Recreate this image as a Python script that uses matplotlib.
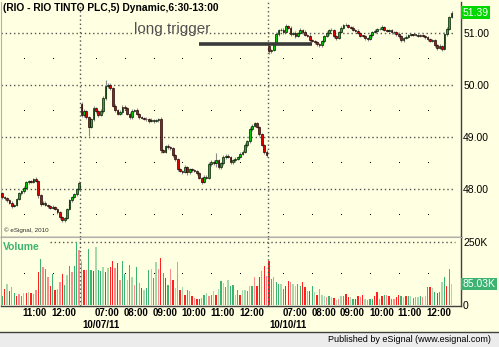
import numpy as np
import matplotlib.pyplot as plt
import matplotlib.transforms as mtransforms
from matplotlib.patches import Rectangle
from matplotlib.lines import Line2D

plt.rcParams["font.family"] = ["Liberation Sans", "DejaVu Sans"]

W, H = 499, 347
BG = "#ffffe1"

# ---- 5-minute bars, three sessions ----
day_labels = ["10/06/11", "10/07/11", "10/10/11"]
day_start = [(10, 15), (6, 30), (6, 30)]
day_open = [47.92, 49.63, 50.75]

close_d1 = [47.85, 47.82, 47.78, 47.74, 47.68, 47.70, 47.80, 47.92, 47.96, 48.02,
            48.13, 48.15, 48.14, 48.19, 48.16, 47.88, 47.72, 47.74, 47.70, 47.67,
            47.64, 47.66, 47.62, 47.55, 47.46, 47.40, 47.45, 47.62, 47.78, 47.84,
            47.90, 48.00, 48.12]
close_d2 = [49.42, 49.50, 49.38, 49.20, 49.35, 49.55, 49.50, 49.42, 49.50, 49.75,
            49.98, 50.00, 49.95, 49.60, 49.52, 49.45, 49.48, 49.58, 49.55, 49.45,
            49.38, 49.50, 49.52, 49.45, 49.38, 49.36, 49.35, 49.34, 49.30, 49.33,
            49.30, 49.32, 49.35, 48.75, 48.72, 48.82, 48.80, 48.78, 48.65, 48.58,
            48.38, 48.35, 48.33, 48.43, 48.32, 48.38, 48.36, 48.35, 48.30, 48.22,
            48.14, 48.24, 48.22, 48.48, 48.52, 48.50, 48.55, 48.42, 48.50, 48.62,
            48.64, 48.62, 48.52, 48.55, 48.58, 48.62, 48.68, 48.72, 48.85, 48.92,
            49.15, 49.22, 49.26, 49.20, 49.05, 48.85, 48.72, 48.65]
close_d3 = [50.65, 50.68, 50.78, 50.98, 51.05, 51.06, 51.02, 51.14, 51.10, 50.98,
            51.00, 50.94, 51.00, 51.06, 51.02, 50.96, 50.95, 50.86, 50.84, 50.82,
            50.78, 50.76, 50.84, 50.95, 51.00, 51.05, 51.06, 50.94, 50.90, 51.02,
            51.10, 51.15, 51.16, 51.12, 51.10, 51.06, 51.04, 51.00, 50.95, 50.94,
            50.90, 50.88, 50.96, 51.02, 51.04, 51.08, 51.07, 51.12, 51.06, 51.03,
            51.05, 51.02, 51.01, 50.98, 50.94, 50.86, 50.90, 50.93, 50.96, 50.97,
            50.96, 50.96, 50.95, 50.96, 50.95, 50.92, 50.88, 50.85, 50.86, 50.76,
            50.72, 50.75, 50.70, 50.98, 51.08, 51.30, 51.39]

# wick extensions beyond the body, in cents
up_d1 = [3, 2, 2, 2, 3, 2, 3, 2, 2, 3, 3, 2, 3, 2, 4, 2, 2, 3, 2, 2,
         2, 3, 2, 2, 3, 2, 2, 2, 3, 2, 3, 2, 3]
dn_d1 = [4, 3, 3, 3, 4, 2, 3, 2, 3, 3, 2, 3, 2, 2, 3, 5, 4, 2, 3, 3,
         3, 2, 3, 3, 3, 4, 4, 3, 2, 3, 2, 3, 2]
up_d2 = [4, 3, 2, 3, 2, 4, 3, 2, 3, 4, 12, 4, 3, 2, 3, 2, 3, 3, 4, 2,
         3, 3, 2, 3, 2, 3, 2, 3, 2, 3, 2, 3, 2, 3, 2, 3, 4, 3, 2, 3,
         2, 3, 2, 4, 2, 3, 2, 3, 2, 2, 2, 3, 2, 4, 3, 3, 15, 3, 2, 4,
         3, 3, 2, 3, 3, 2, 3, 3, 4, 3, 4, 3, 3, 3, 2, 3, 2, 3]
dn_d2 = [4, 3, 3, 18, 3, 4, 3, 3, 2, 3, 3, 3, 4, 3, 3, 3, 2, 3, 3, 3,
         4, 3, 2, 3, 3, 2, 3, 4, 3, 2, 3, 2, 3, 5, 3, 3, 4, 3, 3, 4,
         3, 3, 4, 3, 5, 3, 3, 3, 3, 3, 4, 3, 3, 3, 3, 3, 8, 3, 3, 3,
         4, 3, 4, 3, 3, 3, 3, 3, 3, 4, 3, 3, 3, 3, 4, 3, 5, 3]
up_d3 = [3, 2, 2, 3, 2, 3, 3, 3, 2, 3, 2, 3, 2, 3, 2, 3, 2, 3, 2, 2,
         3, 2, 3, 2, 3, 2, 3, 2, 3, 2, 3, 2, 3, 2, 2, 3, 2, 3, 2, 2,
         3, 2, 3, 2, 3, 2, 3, 3, 2, 2, 3, 2, 2, 2, 3, 2, 2, 3, 2, 2,
         2, 2, 2, 2, 2, 2, 3, 2, 2, 3, 2, 3, 2, 3, 3, 3, 3]
dn_d3 = [5, 3, 3, 2, 3, 2, 3, 2, 3, 3, 2, 3, 2, 2, 3, 2, 3, 3, 2, 3,
         3, 3, 2, 3, 2, 3, 2, 3, 3, 2, 2, 3, 2, 2, 3, 2, 3, 2, 3, 2,
         3, 3, 2, 3, 2, 3, 2, 2, 3, 2, 2, 3, 2, 3, 3, 3, 3, 2, 2, 2,
         2, 2, 2, 2, 2, 3, 3, 3, 3, 3, 4, 3, 4, 3, 3, 2, 2]

# volume in thousands, colour code per bar
vol_d1 = [39, 66, 86, 59, 74, 51, 39, 47, 39, 51, 51, 55, 51, 47, 62, 133, 183, 152, 144, 113,
          78, 125, 62, 66, 94, 125, 82, 121, 156, 133, 156, 250, 218]
vol_d2 = [177, 140, 138, 222, 138, 137, 231, 140, 137, 151, 134, 147, 153, 177, 147, 169, 101, 177, 125, 99,
          160, 112, 82, 153, 88, 69, 60, 69, 138, 144, 108, 173, 144, 186, 130, 108, 79, 144, 101, 69,
          173, 62, 73, 43, 62, 56, 39, 30, 26, 26, 30, 43, 49, 36, 43, 56, 43, 65, 95, 88,
          73, 101, 75, 82, 43, 60, 43, 62, 62, 56, 75, 78, 114, 78, 114, 137, 156, 117]
vol_d3 = [176, 104, 114, 94, 85, 85, 65, 78, 98, 91, 85, 78, 85, 78, 91, 72, 59, 59, 78, 52,
          42, 65, 42, 39, 33, 39, 33, 29, 23, 26, 39, 36, 46, 33, 33, 26, 26, 36, 33, 42,
          26, 22, 26, 26, 39, 52, 26, 39, 42, 42, 39, 26, 26, 33, 42, 36, 33, 39, 36, 36,
          29, 33, 33, 36, 33, 36, 72, 72, 68, 52, 49, 52, 91, 111, 78, 143, 85]
vcol_d1 = "grlrsgrsglrlrssrgsgsrgrssrglgsggs"
vcol_d2 = "srsggrlgglrlrrsrsgglglsgsrlgglglsrgrgsrlsrlrgsrsrrsglsglrlglglgglgrllglgsrrsrs"
vcol_d3 = "rgsgglgrrsllggrrsrglrsllsglrlslgrrlgrrsrlsggrrsrgsrgsrrglrglgslgslgrlgrglgrgl"

price_ticks = [48, 49, 50, 51]
vol_ticks = [0, 250]
hour_labels = ["07:00", "08:00", "09:00", "10:00", "11:00", "12:00"]
trigger_price = 50.79
trigger_span = (82, 129)   # bar index range of the drawn trigger line
last_price = 51.39
last_vol = 85.03

# ---- assemble series ----
closes, opens, ups, dns, vols, vcols, times, day_first = [], [], [], [], [], [], [], []
for d, (cl, up, dn, vo, vc) in enumerate([(close_d1, up_d1, dn_d1, vol_d1, vcol_d1),
                                          (close_d2, up_d2, dn_d2, vol_d2, vcol_d2),
                                          (close_d3, up_d3, dn_d3, vol_d3, vcol_d3)]):
    day_first.append(len(closes))
    opens += [day_open[d]] + cl[:-1]
    closes += cl
    ups += up
    dns += dn
    vols += vo
    vcols += list(vc)
    h0, m0 = day_start[d]
    for k in range(len(cl)):
        t = h0 * 60 + m0 + 5 * k
        times.append((t // 60, t % 60))

o = np.array(opens)
c = np.array(closes)
n = len(c)
idx = np.arange(n)
hi = np.maximum(o, c) + np.array(ups) / 100
lo = np.minimum(o, c) - np.array(dns) / 100

fig = plt.figure(figsize=(W / 100, H / 100), dpi=100)
fig.patch.set_facecolor(BG)

def frac(px_l, px_t, px_r, px_b):
    return [px_l / W, 1 - px_b / H, (px_r - px_l) / W, (px_b - px_t) / H]

ax = fig.add_axes(frac(1, 2, 461, 237))
axv = fig.add_axes(frac(1, 237, 461, 306), sharex=ax)
for a in (ax, axv):
    a.set_facecolor(BG)
    for s in ("top", "left"):
        a.spines[s].set_color("#b0b0b0")
        a.spines[s].set_linewidth(0.8)
    for s in ("right", "bottom"):
        a.spines[s].set_color("#404040")
        a.spines[s].set_linewidth(1.0)
    a.tick_params(length=0)
ax.spines["top"].set_visible(False)

xmin, xmax = -0.5, 190.9
ax.set_xlim(xmin, xmax)
ax.set_ylim(47.077, 51.596)
axv.set_ylim(-2, 270)

dot_style = dict(color="#555555", lw=1.0, linestyle=(0, (1, 2)))

# price grid
for p in price_ticks:
    ax.plot([xmin, n - 1 + 1.5], [p, p], zorder=1, **dot_style)
hour_idx = [i for i, (h, m) in enumerate(times) if m == 0 and f"{h:02d}:00" in hour_labels]
for p in [47.5, 48.5, 49.5, 50.5]:
    ax.plot(hour_idx, [p] * len(hour_idx), ",", color="black", zorder=1)
axv.plot(hour_idx, [125] * len(hour_idx), ",", color="black", zorder=1)
axv.plot([20, n - 1 + 1.5], [250, 250], zorder=1, **dot_style)
for b in day_first[1:]:
    ax.axvline(b - 0.5, zorder=1, **dot_style)
    axv.axvline(b - 0.5, zorder=4, **dot_style)

# candles
ax.vlines(idx, lo, hi, color="#8a8a8a", lw=0.8, zorder=2)
body_lo = np.minimum(o, c)
body_h = np.maximum(np.abs(c - o), 0.012)
body_col = np.where(c >= o, "#00c800", "#e00000")
ax.bar(idx, body_h, bottom=body_lo, width=0.72, color=body_col,
       edgecolor="black", linewidth=0.45, zorder=3)

# trigger line and note
ax.plot(trigger_span, [trigger_price, trigger_price], color="#3a3a3a", lw=2.6,
        solid_capstyle="butt", zorder=4)
ax.text(55.0, 51.0, "long trigger", fontsize=11, color="#505050", ha="left",
        va="baseline", zorder=5)

# volume
vmap = {"g": "#3cb371", "l": "#a3d9ad", "r": "#ff2020", "s": "#ff8c8c"}
axv.bar(idx, vols, width=0.55, color=[vmap[k] for k in vcols], linewidth=0, zorder=2)
axv.text(0.005, 0.86, "Volume", transform=axv.transAxes, fontsize=7.5, fontweight="bold",
         color="#3cb371", ha="left", va="center")

# y labels on the right
ax.set_yticks(price_ticks)
ax.set_yticklabels([f"{p:.2f}" for p in price_ticks], fontsize=7.5)
ax.yaxis.tick_right()
ax.tick_params(axis="y", pad=1.5)
axv.set_yticks(vol_ticks)
axv.set_yticklabels(["0", "250K"], fontsize=7.5)
axv.yaxis.tick_right()
axv.tick_params(axis="y", pad=1.5)
plt.setp(ax.get_xticklabels(), visible=False)
axv.set_xticks([])

ax.text(1.003, last_price, f"{last_price:.2f}", transform=ax.get_yaxis_transform(),
        fontsize=7.5, color="white", ha="left", va="center",
        bbox=dict(boxstyle="square,pad=0.12", fc="#00d800", ec="none"))
axv.text(1.003, last_vol, f"{last_vol:.2f}K", transform=axv.get_yaxis_transform(),
         fontsize=7.5, color="white", ha="left", va="center",
         bbox=dict(boxstyle="square,pad=0.12", fc="#3cb371", ec="none"))

# time axis labels
tr = mtransforms.blended_transform_factory(axv.transData, axv.transAxes)
for i in hour_idx:
    h, m = times[i]
    axv.text(i - 0.4, -0.10, f"{h:02d}:00", transform=tr, fontsize=7, fontweight="bold",
             ha="left", va="center", clip_on=False)
for d, b in enumerate(day_first[1:], start=1):
    axv.text(b + 0.3, -0.275, day_labels[d], transform=tr, fontsize=7, fontweight="bold",
             ha="left", va="center", clip_on=False)

# header, watermark, footer
fig.text(3 / W, 1 - 8 / H, "(RIO - RIO TINTO PLC,5) Dynamic,6:30-13:00", fontsize=7.4,
         fontweight="bold", ha="left", va="center")
ax.text(0.006, 0.03, "\u00a9 eSignal, 2010", transform=ax.transAxes, fontsize=4.5,
        color="#303030", ha="left", va="center")
fig.patches.append(Rectangle((0, 0), 1, 15 / H, transform=fig.transFigure,
                             facecolor="#ececec", edgecolor="none", zorder=0))
fig.lines.append(Line2D([0, 1], [15 / H, 15 / H], transform=fig.transFigure,
                        color="#404040", lw=1.0))
fig.text(491 / W, 7 / H, "Published by eSignal (www.esignal.com)", fontsize=6.5,
         ha="right", va="center")

fig.savefig("out.png", dpi=100, facecolor=fig.get_facecolor())
